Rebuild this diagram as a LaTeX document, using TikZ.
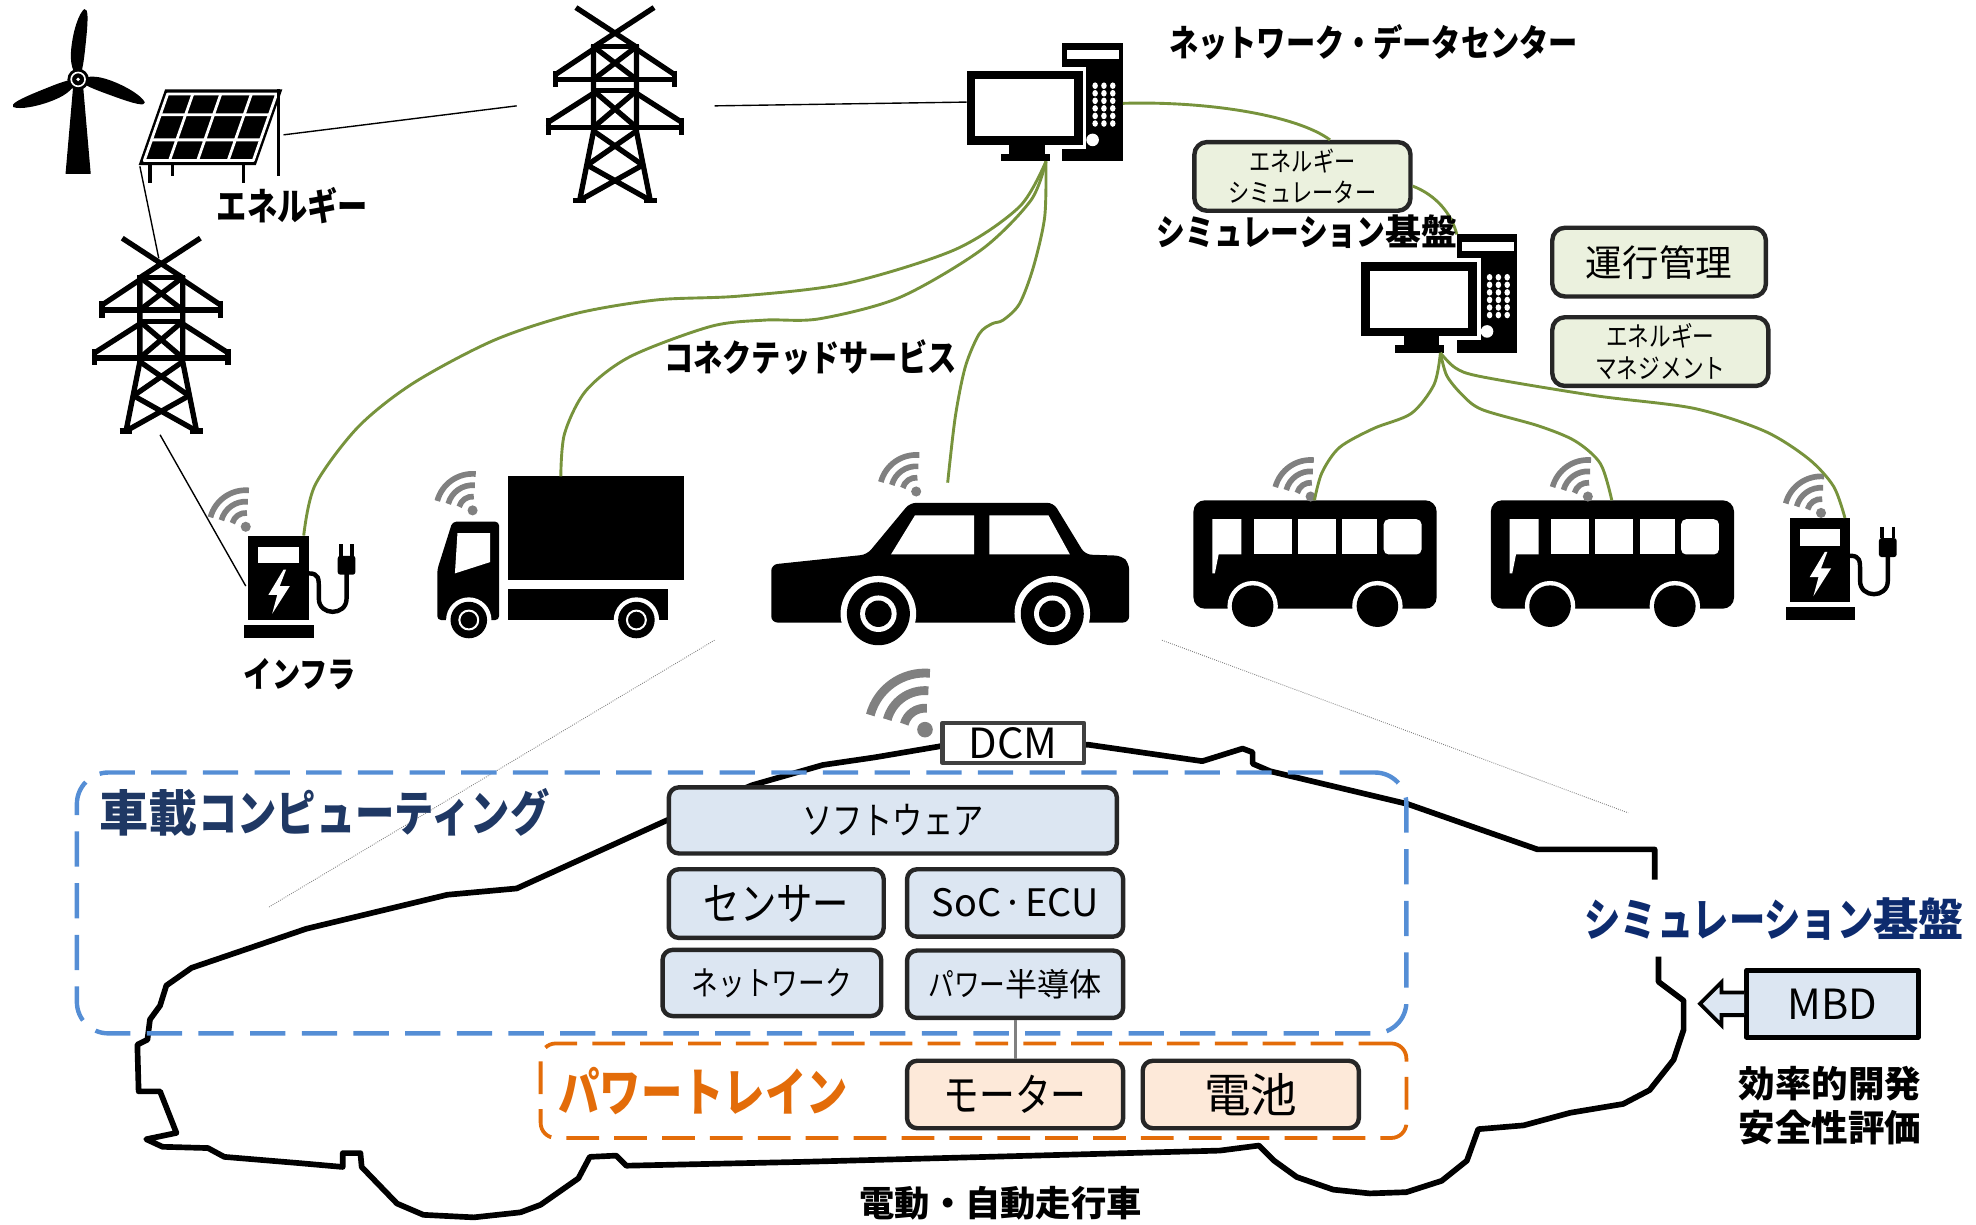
\documentclass[tikz,border=0pt]{standalone}
\usepackage{fontspec}
\newfontfamily\jpn[FakeStretch=0.8]{Noto Sans CJK JP}
\newfontfamily\jpw{Noto Sans CJK JP}
\newcommand{\fsz}[2]{\fontsize{#1}{#2}\selectfont}
\usetikzlibrary{calc}

\definecolor{linkgreen}{HTML}{77933C}
\definecolor{boxline}{HTML}{262626}
\definecolor{hwfill}{HTML}{DCE6F2}
\definecolor{simfill}{HTML}{EBF1DE}
\definecolor{ptfill}{HTML}{FDE9D9}
\definecolor{ecublue}{HTML}{558ED5}
\definecolor{ptorange}{HTML}{E36C09}
\definecolor{navy}{HTML}{1F3864}
\definecolor{simnavy}{HTML}{0D2B6E}
\definecolor{wifigray}{HTML}{808080}

\tikzset{
  hw/.style={draw=boxline, line width=3.5pt, rounded corners=8pt, fill=hwfill, inner sep=0pt},
  ptbox/.style={hw, fill=ptfill},
  simbox/.style={hw, fill=simfill, rounded corners=10pt},
  link/.style={draw=linkgreen, line width=2.3pt},
  wire/.style={draw=black, line width=1.1pt},
  guide/.style={draw=gray, line width=0.7pt, densely dotted},
  lbl/.style={inner sep=0pt},
}

% transmission pylon, #1 name, #2 centre x, #3 top y
\newcommand{\pylonicon}[3]{%
  \begin{scope}[shift={(#2,#3)}, line width=4.2pt, line cap=butt]
    \draw (-31,0) -- (18,32) (31,0) -- (-18,32);
    \draw (-19,31) -- (19,31);
    \draw (-17,30) -- (-17,98) -- (-28,153);
    \draw (17,30) -- (17,98) -- (28,153);
    \draw (-17,33) -- (-47,53) (17,33) -- (47,53);
    \draw (-49,57) -- (49,57);
    \draw (-47,50) -- (-47,63) (47,50) -- (47,63);
    \draw (-17,68) -- (-53,91) (17,68) -- (53,91);
    \draw (-55,95) -- (55,95);
    \draw (-53,88) -- (-53,101) (53,88) -- (53,101);
    \draw (-17,31) -- (17,57) (17,31) -- (-17,57);
    \draw (-17,66) -- (17,66);
    \draw (-17,66) -- (17,95) (17,66) -- (-17,95);
    \draw (-17,98) -- (22,125) (17,98) -- (-22,125);
    \draw (-22,125) -- (28,153) (22,125) -- (-28,153);
    \draw (-33,153) -- (-23,153) (23,153) -- (33,153);
    \coordinate (#1-w) at (-78,78);
    \coordinate (#1-e) at (79,78);
    \coordinate (#1-n) at (-2,16);
    \coordinate (#1-s) at (-1,156);
  \end{scope}}

% desktop computer, #1 name, #2 #3 monitor top-left
\newcommand{\pcicon}[3]{%
  \begin{scope}[shift={(#2,#3)}]
    \fill (76,-22) rectangle (124,72);
    \fill[white] (80,-16) rectangle (121,-9);
    \foreach \cx in {102,109,116} \foreach \cy in {12,18,24,30,36,42}
      \fill[white] (\cx,\cy) ellipse (2.2 and 2.6);
    \fill[white] (100,55) circle (5);
    \fill[white] (-3,-3) rectangle (95,62);
    \fill (0,0) rectangle (92,59);
    \fill[white] (7,7) rectangle (85,52);
    \fill (34,59) rectangle (62,67);
    \fill (27,66) rectangle (66,72);
    \coordinate (#1-e) at (124,26);
    \coordinate (#1-s) at (63,72);
    \coordinate (#1-w) at (0,25);
    \coordinate (#1-n) at (76,-22);
  \end{scope}}

% charging station, #1 name, #2 #3 body top-left
\newcommand{\chargericon}[3]{%
  \begin{scope}[shift={(#2,#3)}]
    \fill (0,0) rectangle (48,67);
    \fill (-3,71) rectangle (52,81);
    \fill[white] (8,9) rectangle (40,22);
    \fill[white] (28,27) -- (16,47) -- (23,47) -- (19,62) -- (33,40) -- (25,40) -- (30,27) -- cycle;
    \draw[line width=3.5pt] (48,30) .. controls (56,30) and (56,34) .. (56,42) -- (56,50)
      .. controls (56,64) and (78,64) .. (78,50) -- (78,28);
    \fill[rounded corners=2pt] (71,16) rectangle (85,31);
    \fill (72,7) rectangle (75,16);
    \fill (81,7) rectangle (84,16);
    \coordinate (#1-n) at (44,0);
    \coordinate (#1-w) at (-2,40);
  \end{scope}}

% bus, #1 name, #2 #3 top-left
\newcommand{\busicon}[3]{%
  \begin{scope}[shift={(#2,#3)}]
    \fill[rounded corners=9pt] (0,0) rectangle (193,86);
    \fill[white] (15,15) -- (38,15) -- (38,43) -- (20,43) -- (17,58) -- (15,58) -- cycle;
    \fill[white] (48,15) rectangle (78,43);
    \fill[white] (83,15) rectangle (113,43);
    \fill[white] (118,15) rectangle (146,43);
    \fill[white, rounded corners=4pt] (151,15) rectangle (181,43);
    \foreach \wx in {47,146} {
      \fill[white] (\wx,84) circle (20);
      \fill (\wx,84) circle (16.5);
    }
    \coordinate (#1-n) at (96,0);
  \end{scope}}

% radio waves, #1 #2 dot, #3 scale, #4 stroke
\newcommand{\wifiicon}[4]{%
  \begin{scope}[shift={(#1,#2)}, scale=#3]
    \fill[wifigray] (0,0) circle (4);
    \foreach \r in {11,20,29}
      \draw[wifigray, line width=#4] (195:\r) arc[start angle=195, end angle=275, radius=\r];
  \end{scope}}

\begin{document}
\begin{tikzpicture}[x=1pt, y=-1pt, line join=round]
\useasboundingbox (0,0) rectangle (1568,972);

% ---------- energy sources ----------
\begin{scope}[shift={(62,63)}]
  \fill (-4,6) -- (4,6) -- (10,75) -- (-10,75) -- cycle;
  \foreach \a in {84,202,340}
    \fill[rotate=\a] (0,0) .. controls (6,-5) and (12,-8) .. (24,-8)
      .. controls (38,-8) and (52,-5) .. (56,-1) .. controls (57,2) and (50,3) .. (30,3)
      .. controls (15,3) and (6,3) .. (0,0);
  \fill (0,0) circle (8.5);
  \draw[white, line width=1.3pt] (0,0) circle (5.5);
  \fill[white] (0,0) circle (1.5);
\end{scope}

\fill (131,71) -- (224,71) -- (203,131) -- (110,131) -- cycle;
\draw[white, line width=2.2pt] (133,74.6) -- (219.5,74.6) -- (201,127.4) -- (114.5,127.4) -- cycle;
\draw[white, line width=2.2pt] (153,74.6) -- (134.5,127.4) (175.2,74.6) -- (156.8,127.4)
  (199.5,74.6) -- (181,127.4) (127.3,91) -- (213.7,91) (120.3,111) -- (206.7,111);
\draw[line width=2.5pt] (119,131) -- (119,145) (137,131) -- (137,140) (193,131) -- (193,145)
  (221,71) -- (221,140);
\coordinate (panel-e) at (225,107);
\coordinate (panel-sw) at (111,132);

\pylonicon{pylonA}{488}{6}
\pylonicon{pylonB}{128}{189}

\pcicon{pcA}{767}{56}
\pcicon{pcB}{1080}{208}

% ---------- vehicles and chargers ----------
\chargericon{chgA}{197}{425}
\chargericon{chgB}{1420}{411}

% truck
\fill (403,378) rectangle (543,460);
\fill (403,467) rectangle (530,492);
\fill[rounded corners=3pt] (359,414) -- (396,414) -- (396,492) -- (347,492) -- (347,452) -- cycle;
\fill[white] (363,423) -- (389,423) -- (389,446) -- (361,455) -- cycle;
\foreach \wx in {372,505} {
  \fill[white] (\wx,492) circle (18);
  \fill (\wx,492) circle (14.5);
  \draw[white, line width=1.6pt] (\wx,492) circle (7.5);
}
\coordinate (truck-n) at (445,378);

% passenger car
\fill[rounded corners=5pt] (612,494) -- (612,448) -- (688,440) -- (722,399) -- (836,399)
  -- (861,440) -- (890,441) -- (896,447) -- (896,494) -- cycle;
\fill[white] (726,409) -- (773,409) -- (773,440) -- (707,440) -- cycle;
\fill[white] (785,409) -- (832,409) -- (849,440) -- (785,440) -- cycle;
\foreach \wx in {697,835} {
  \fill[white] (\wx,487) circle (30);
  \fill (\wx,487) circle (25);
  \fill[white] (\wx,487) circle (14.5);
  \fill (\wx,487) circle (10.5);
}
\coordinate (car-n) at (752,383);

\busicon{busA}{947}{397}
\busicon{busB}{1183}{397}

\wifiicon{195}{418}{1}{4.5pt}
\wifiicon{375}{405}{1}{4.5pt}
\wifiicon{727}{390}{1}{4.5pt}
\wifiicon{1040}{394}{1}{4.5pt}
\wifiicon{1260}{394}{1}{4.5pt}
\wifiicon{1445}{407}{1}{4.5pt}
\wifiicon{734}{579}{1.55}{7pt}

% ---------- power grid wiring ----------
\draw[wire] (panel-e) -- (pylonA-w);
\draw[wire] (pylonA-e) -- (pcA-w);
\draw[wire] (panel-sw) -- (pylonB-n);
\draw[wire] (pylonB-s) -- (chgA-w);

% ---------- simulation boxes (top) ----------
\node[simbox, minimum width=171.5, minimum height=54.5] (esim) at (1033.5,140) {};
\node[lbl, align=center, font={\jpn\fsz{21}{25}}] at (esim) {エネルギー\\シミュレーター};
\node[simbox, minimum width=169.5, minimum height=54.5] (unko) at (1316.5,208) {};
\node[lbl, font={\jpw\fsz{29}{29}}] at (unko) {運行管理};
\node[simbox, minimum width=171.5, minimum height=54.5] (emgmt) at (1317.5,279) {};
\node[lbl, align=center, font={\jpn\fsz{21.5}{25}}] at (emgmt) {エネルギー\\マネジメント};

% ---------- connected service links ----------
\draw[link] (pcA-e) .. controls (960,80) and (1030,92) .. (esim.53);
\draw[link] (esim.-5) .. controls (1140,155) and (1152,170) .. (pcB-n);
\draw[link] plot[smooth] coordinates {(pcA-s) (809,164) (758,198) (671,225) (586,235) (521,238)
  (456,249) (392,270) (328,304) (284,339) (250,385) (chgA-n)};
\draw[link] plot[smooth] coordinates {(pcA-s) (818,159) (779,198) (714,236) (650,253) (607,254)
  (564,259) (500,283) (465,310) (448,344) (truck-n)};
\draw[link] plot[smooth] coordinates {(pcA-s) (829,172) (820,212) (809,241) (796,254) (787,257)
  (777,265) (766,291) (758,331) (car-n)};
\draw[link] plot[smooth] coordinates {(pcB-s) (1138,305) (1120,328) (1090,340) (1063,355) (1049,375) (busA-n)};
\draw[link] plot[smooth] coordinates {(pcB-s) (1148,298) (1160,313) (1176,325) (1221,338) (1250,350) (1270,368) (busB-n)};
\draw[link] plot[smooth] coordinates {(pcB-s) (1155,292) (1176,299) (1266,314) (1344,324) (1400,342) (1435,364) (1455,386) (chgB-n)};

% ---------- top labels ----------
\node[lbl, font={\jpn\bfseries\fsz{29}{29}}] (lbl-dc) at (1090,34) {ネットワーク・データセンター};
\node[lbl, font={\bfseries\fsz{28.5}{28.5}}] (lbl-sim) at (1037,184) {{\jpn シミュレーション}{\jpw 基盤}};
\node[lbl, font={\jpn\bfseries\fsz{29}{29}}] (lbl-cs) at (643,284) {コネクテッドサービス};
\node[lbl, font={\jpn\bfseries\fsz{30}{30}}] (lbl-en) at (232,163) {エネルギー};
\node[lbl, font={\jpn\bfseries\fsz{28}{28}}] (lbl-inf) at (238,535) {インフラ};

% ---------- zoom guides ----------
\coordinate (carL) at (567,508);
\coordinate (carR) at (922,508);
\coordinate (zoomL) at (213,720);
\coordinate (zoomR) at (1292,645);
\draw[guide] (carL) -- (zoomL);
\draw[guide] (carR) -- (zoomR);

% ---------- large vehicle silhouette ----------
\draw[line width=4.5pt] (1316,759) -- (1316,779) -- (1336,794) -- (1336,817) -- (1328,841)
  -- (1309,865) -- (1288,876) -- (1246,883) -- (1209,893) -- (1173,896)
  -- (1164,921) -- (1144,937) -- (1116,946) -- (1087,947) -- (1058,944) -- (1029,934)
  -- (1011,921) -- (999,909) -- (968,913) -- (635,922) -- (497,925) -- (489,917)
  -- (468,918) -- (459,935) -- (429,956) -- (413,962) -- (376,966) -- (336,964)
  -- (315,955) -- (287,926) -- (286,915) -- (272,915) -- (272,926) -- (238,923)
  -- (178,918) -- (165,911)
  -- (129,910) -- (116,904) -- (140,899) -- (127,866) -- (110,866) -- (109,829)
  -- (117,825) -- (119,809) -- (127,798) -- (132,782) -- (152,768) -- (243,737)
  -- (355,710) -- (410,705) -- (529,651) -- (597,623) -- (653,607) -- (694,601)
  -- (747,592) -- (864,591) -- (954,604) -- (986,594) -- (994,597) -- (994,606)
  -- (1008,612) -- (1117,638) -- (1177,659) -- (1220,674) -- (1313,674) -- (1313,698);

% ---------- domain frames ----------
\node[draw=ecublue, line width=3.5pt, dash pattern=on 28pt off 13pt, rounded corners=25pt,
  minimum width=1055, minimum height=207, inner sep=0pt] (ecu-frame) at (588.5,716.5) {};
\node[lbl, anchor=west, text=navy, font={\bfseries\fsz{39}{39}}] (lbl-ecu) at (79,645)
  {{\jpw 車載}{\jpn コンピューティング}};
\node[draw=ptorange, line width=3pt, dash pattern=on 26pt off 12pt, rounded corners=12pt,
  minimum width=687, minimum height=75, inner sep=0pt] (pt-frame) at (772.5,865.5) {};
\node[lbl, text=ptorange, font={\jpn\bfseries\fsz{41}{41}}] (lbl-pt) at (558,866) {パワートレイン};

% ---------- on-board components ----------
\node[draw=black!75, line width=3.5pt, fill=white, minimum width=112.5, minimum height=31.5,
  inner sep=0pt, font={\jpw\fsz{33}{33}}] (dcm) at (804,589.5) {DCM};
\node[hw, minimum width=355.5, minimum height=52.5, font={\jpn\fsz{30}{30}}] (sw) at (708.5,651) {ソフトウェア};
\node[hw, minimum width=170.5, minimum height=54.5, font={\jpn\fsz{36}{36}}] (sensor) at (616,717) {センサー};
\node[hw, minimum width=171.5, minimum height=53.5, font={\jpw\fsz{30}{30}}] (soc) at (805.5,716.5) {SoC\kern1pt·\kern1ptECU};
\node[hw, minimum width=173.5, minimum height=52.5, font={\jpn\fsz{26.5}{26.5}}] (net) at (612.5,780) {ネットワーク};
\node[hw, minimum width=171.5, minimum height=53.5, font={\fsz{25.5}{25.5}}] (psemi) at (805.5,781) {{\jpn パワー}{\jpw 半導体}};
\node[ptbox, minimum width=171.5, minimum height=53.5, font={\jpn\fsz{35.5}{35.5}}] (motor) at (805.5,868.5) {モーター};
\node[ptbox, minimum width=171.5, minimum height=53.5, font={\jpw\fsz{37}{37}}] (batt) at (992.5,868.5) {電池};
\draw[draw=gray, line width=2.5pt] (psemi.south) -- (motor.north);

\node[lbl, font={\jpw\bfseries\fsz{28}{28}}] (lbl-ev) at (794,955) {電動・自動走行車};

% ---------- model based development ----------
\node[lbl, text=simnavy, font={\bfseries\fsz{36}{36}}] (lbl-simR) at (1408,729)
  {{\jpn シミュレーション}{\jpw 基盤}};
\node[draw=black, line width=4pt, fill=hwfill, minimum width=136, minimum height=53,
  inner sep=0pt, font={\jpw\fsz{33}{33}}] (mbd) at (1454,796.5) {MBD};
\begin{scope}[shift={(mbd.west)}]
  \draw[line width=3pt, fill=hwfill, line join=miter]
    (0,-9) -- (-18,-9) -- (-18,-17) -- (-35,0) -- (-18,17) -- (-18,9) -- (0,9);
\end{scope}
\node[lbl, align=center, font={\jpw\bfseries\fsz{29}{35}}] (lbl-mbd) at (1452,877)
  {効率的開発\\安全性評価};

\end{tikzpicture}
\end{document}
